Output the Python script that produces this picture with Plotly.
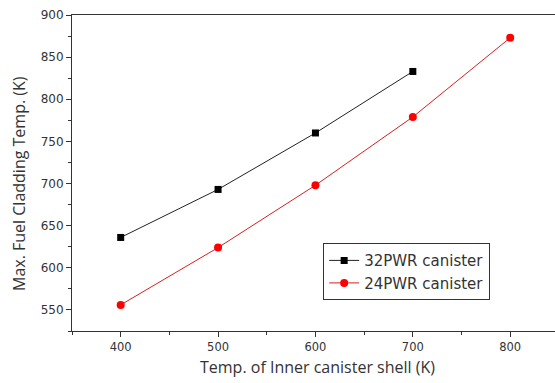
import plotly.graph_objects as go

x32 = [400, 500, 600, 700]
y32 = [636, 693, 760, 833]
x24 = [400, 500, 600, 700, 800]
y24 = [556, 624, 698, 779, 873]
xticks = [400, 500, 600, 700, 800]
yticks = [550, 600, 650, 700, 750, 800, 850, 900]
xtitle = "Temp. of Inner canister shell (K)"
ytitle = "Max. Fuel Cladding Temp. (K)"

fig = go.Figure()
fig.add_trace(go.Scatter(x=x32, y=y32, mode="lines+markers", name="32PWR canister",
                         line=dict(color="#222222", width=1),
                         marker=dict(symbol="square", size=7, color="black")))
fig.add_trace(go.Scatter(x=x24, y=y24, mode="lines+markers", name="24PWR canister",
                         line=dict(color="#d42020", width=1),
                         marker=dict(symbol="circle", size=8, color="red")))

font = "DejaVu Sans, Verdana, sans-serif"
tfont = "Open Sans, Noto Sans, sans-serif"
txt = "#333333"
fig.update_layout(
    width=555, height=383,
    margin=dict(l=72, r=0, t=15, b=52),
    paper_bgcolor="white", plot_bgcolor="white",
    font=dict(family=font, color=txt, size=11.5),
    showlegend=True,
    legend=dict(x=0.52, y=0.278, xanchor="left", yanchor="top",
                bordercolor="#333333", borderwidth=1, bgcolor="white",
                font=dict(size=15, family=font, color=txt), tracegroupgap=0,
                itemwidth=30),
    xaxis=dict(range=[350, 846], tickvals=xticks, showgrid=False, zeroline=False,
               automargin=False,
               showline=True, linecolor="#333333", linewidth=1, mirror=True,
               ticks="outside", ticklen=5, tickcolor="#333333",
               tickfont=dict(size=11.5),
               minor=dict(ticks="outside", ticklen=3, dtick=50, tick0=350, tickcolor="#333333")),
    yaxis=dict(range=[525, 900], tickvals=yticks, showgrid=False, zeroline=False,
               automargin=False,
               showline=True, linecolor="#333333", linewidth=1,
               ticks="outside", ticklen=5, tickcolor="#333333",
               tickfont=dict(size=12),
               minor=dict(ticks="outside", ticklen=3, dtick=25, tick0=525, tickcolor="#333333")),
    annotations=[
        dict(text=xtitle, xref="paper", yref="paper",
             x=(317 - 72) / 483, y=-(367 - 331) / 316,
             xanchor="center", yanchor="middle", showarrow=False,
             font=dict(size=16, family=tfont, color=txt)),
        dict(text=ytitle, xref="paper", yref="paper", textangle=-90,
             x=-(72 - 19) / 483, y=(331 - 184) / 316,
             xanchor="center", yanchor="middle", showarrow=False,
             font=dict(size=16, family=tfont, color=txt)),
    ],
)

fig.write_html("out.html", config={"displayModeBar": False},
               post_script="document.body.style.margin='0';")
